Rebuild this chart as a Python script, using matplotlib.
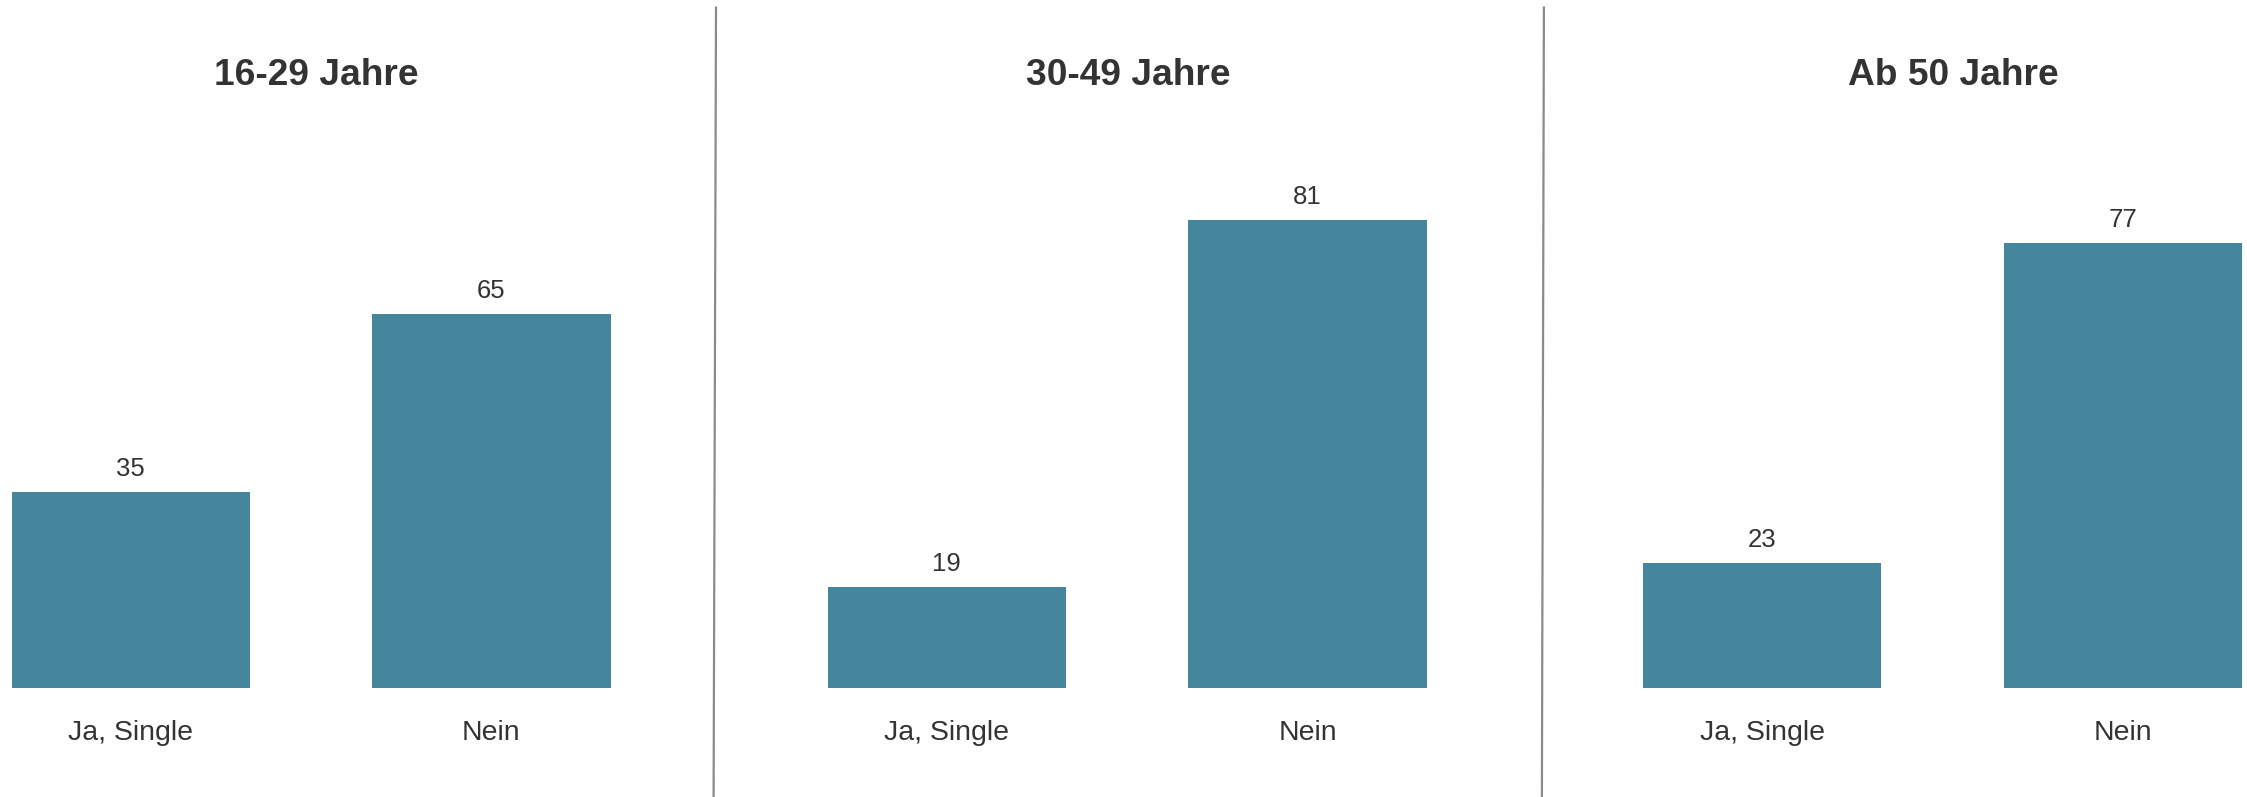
import matplotlib
matplotlib.use("Agg")
import matplotlib.pyplot as plt
from matplotlib.lines import Line2D

# ---- data ----
groups = ["16-29 Jahre", "30-49 Jahre", "Ab 50 Jahre"]
categories = ["Ja, Single", "Nein"]
values_16_29 = [35, 65]
values_30_49 = [19, 81]
values_ab50 = [23, 77]
all_values = [values_16_29, values_30_49, values_ab50]

BAR_COLOR = "#45869c"
TEXT_COLOR = "#333333"
FONT = "Liberation Sans"

W, H = 2247, 797
fig = plt.figure(figsize=(W / 100, H / 100), dpi=100)
fig.patch.set_facecolor("white")

ax_lefts = [11.5 / W, 827.6 / W, 1643.3 / W]
ax_width = 599 / W
ax_bottom = (H - 687.5) / H
ax_height = (687.5 - 107) / H
title_x = [316.6 / W, 1128.5 / W, 1953.5 / W]
title_y = (H - 85.4) / H

for i, (grp, vals) in enumerate(zip(groups, all_values)):
    ax = fig.add_axes([ax_lefts[i], ax_bottom, ax_width, ax_height])
    x = list(range(len(categories)))
    ax.bar(x, vals, width=0.66, color=BAR_COLOR, linewidth=0)
    ax.set_xlim(-0.33, 1.33)
    ax.set_ylim(2.0, 100)
    ax.axis("off")
    for xi, v, c in zip(x, vals, categories):
        ax.annotate(str(v), xy=(xi, v), xytext=(0, 11.5), textcoords="offset points",
                    ha="center", va="baseline", fontsize=18.5, color=TEXT_COLOR,
                    family=FONT)
        ax.annotate(c, xy=(xi, 0), xycoords=("data", "axes fraction"),
                    xytext=(0, -37.5), textcoords="offset points",
                    ha="center", va="baseline", fontsize=20.5, color=TEXT_COLOR,
                    family=FONT, annotation_clip=False)
    fig.text(title_x[i], title_y, grp, ha="center", va="baseline", fontsize=26.7,
             fontweight="bold", color=TEXT_COLOR, family=FONT)

# vertical dividers
for xt, xb in [(716.0, 713.6), (1543.9, 1541.9)]:
    fig.add_artist(Line2D([xt / W, xb / W], [(H - 7.6) / H, 0.0],
                          transform=fig.transFigure, color="#8a8a8a", linewidth=1.6))

fig.savefig("out.png", dpi=100, facecolor="white")
